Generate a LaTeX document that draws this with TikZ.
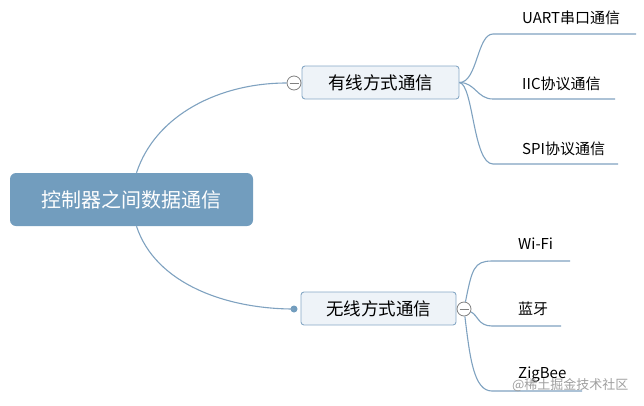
\documentclass[tikz,border=0pt]{standalone}
\usepackage{fontspec}
\setmainfont{Noto Sans CJK SC}
\usetikzlibrary{positioning}
\definecolor{rootblue}{HTML}{729DBE}
\definecolor{boxfill}{HTML}{EEF3F8}
\definecolor{boxline}{HTML}{86A8C5}
\definecolor{linkblue}{HTML}{7FA2C0}
\tikzset{
	rootbox/.style={
		rectangle,
		rounded corners=6pt,
		fill=rootblue,
		text=white,
		minimum width=243pt,
		minimum height=53pt,
		font=\fontsize{20}{22}\selectfont
	},
	branchbox/.style={
		rectangle,
		rounded corners=3pt,
		draw=boxline,
		line width=0.9pt,
		fill=boxfill,
		minimum height=33pt,
		font=\fontsize{17.5}{20}\selectfont
	},
	leaf/.style={
		anchor=west,
		inner sep=0pt,
		font=\fontsize{15}{17}\selectfont
	},
	fold/.style={
		circle,
		draw=gray,
		fill=white,
		line width=0.8pt,
		minimum size=14pt,
		inner sep=0,
		path picture={\draw[gray, line width=0.8pt] ([xshift=-4.5pt]path picture bounding box.center) -- ([xshift=4.5pt]path picture bounding box.center);}
	},
	link/.style={
		draw=linkblue,
		line width=1.1pt
	}
}

\begin{document}
\begin{tikzpicture}[x=1pt, y=-1pt]
		\useasboundingbox (0,0) rectangle (644,405);
		
		\node [rootbox] (root) at (131.5,199.5) {控制器之间数据通信};
		\node [branchbox, minimum width=157pt] (wired) at (380.5,82.5) {有线方式通信};
		\node [branchbox, minimum width=155pt] (wireless) at (378.5,308.5) {无线方式通信};
		
		\node [fold] (wiredfold) at (294,83) {};
		\node [fold] (wirelessfold) at (464,309) {};
		\node [circle, fill=rootblue, minimum size=7pt, inner sep=0] (wirelessdot) at (294,309) {};
		
		% root to branches
		\draw [link] ([xshift=5pt]root.north) .. controls +(19,-58) and +(-67,0) .. (wiredfold.west);
		\draw [link] ([xshift=5pt]root.south) .. controls +(19,58) and +(-67,0) .. (wirelessdot.center);
		
		% wired leaves
		\coordinate (uartL) at (493,34);
		\coordinate (uartR) at (636,34);
		\coordinate (iicL) at (493,99);
		\coordinate (iicR) at (615,99);
		\coordinate (spiL) at (493,164);
		\coordinate (spiR) at (618,164);
		\draw [link] (wired.east) .. controls +(18,0) and +(-16,0) .. (uartL) -- (uartR);
		\draw [link] (wired.east) .. controls +(16,0) and +(-16,0) .. (iicL) -- (iicR);
		\draw [link] (wired.east) .. controls +(14,2) and +(-20,0) .. (spiL) -- (spiR);
		\node [leaf] (uart) at (522,18) {UART串口通信};
		\node [leaf] (iic) at (522,84) {IIC协议通信};
		\node [leaf] (spi) at (522,149) {SPI协议通信};
		
		% wireless leaves
		\coordinate (wifiL) at (492,261);
		\coordinate (wifiR) at (570,261);
		\coordinate (btL) at (492,326);
		\coordinate (btR) at (561,326);
		\coordinate (zigL) at (492,391);
		\coordinate (zigR) at (582,391);
		\draw [link] (wirelessfold) .. controls +(8,-40) and +(-18,0) .. (wifiL) -- (wifiR);
		\draw [link] (wirelessfold) .. controls +(14,6) and +(-14,0) .. (btL) -- (btR);
		\draw [link] (wirelessfold) .. controls +(6,50) and +(-18,0) .. (zigL) -- (zigR);
		\node [leaf] (wifi) at (518,244) {Wi-Fi};
		\node [leaf] (bt) at (518,309) {蓝牙};
		\node [leaf] (zigbee) at (518,375) {ZigBee};
		
		\node [anchor=east, text=gray!75, font=\fontsize{13}{15}\selectfont] (mark) at (632,385) {@稀土掘金技术社区};
\end{tikzpicture}
\end{document}
